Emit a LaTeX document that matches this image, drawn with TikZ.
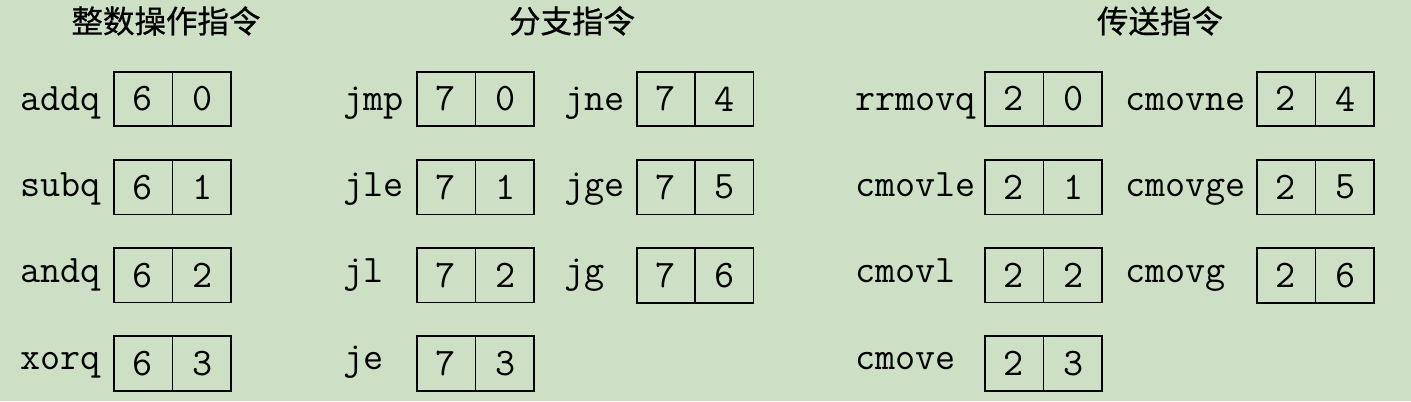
\documentclass[tikz,border=0pt]{standalone}
\usepackage{fontspec}
\newfontfamily\cjk{Noto Sans CJK SC}[FakeBold=0.6]
\usepackage{tikz}
\usetikzlibrary{shapes.multipart}
\usetikzlibrary{positioning}
\definecolor{bggreen}{RGB}{205,223,196}

\begin{document}
\begin{tikzpicture}[x=0.5pt, y=0.5pt,
			title/.style={font=\cjk\fontsize{15.75}{18}\selectfont, text=black},
			instr/.style={font=\fontsize{19.5}{22}\selectfont\ttfamily, anchor=base west, inner sep=0pt},
			code/.style={rectangle, draw=black, line width=0.9pt, rectangle split, rectangle split horizontal, rectangle split parts=2,
					inner xsep=0pt, inner ysep=7.5pt, text width=28.75pt, align=center, text height=12pt, text depth=0pt,
					font=\fontsize{19.5}{22}\selectfont\ttfamily},
			node distance=16pt]
		\path [fill=bggreen, use as bounding box] (0,0) rectangle (1411,401);

		\node (inttitle) [title] at (166,380) {整数操作指令};
		\node (jumptitle) [title] at (572,380) {分支指令};
		\node (movetitle) [title] at (1160,380) {传送指令};

		\node (addqcode) [code] at (172.5,302) {6 \nodepart{two} 0};
		\node (subqcode) [code, below=of addqcode] {6 \nodepart{two} 1};
		\node (andqcode) [code, below=of subqcode] {6 \nodepart{two} 2};
		\node (xorqcode) [code, below=of andqcode] {6 \nodepart{two} 3};

		\node (addq) [instr] at (20,290) {addq};
		\node (subq) [instr] at (20,204) {subq};
		\node (andq) [instr] at (20,118) {andq};
		\node (xorq) [instr] at (20,32) {xorq};

		\node (jmpcode) [code] at (475.5,302) {7 \nodepart{two} 0};
		\node (jlecode) [code, below=of jmpcode] {7 \nodepart{two} 1};
		\node (jlcode) [code, below=of jlecode] {7 \nodepart{two} 2};
		\node (jecode) [code, below=of jlcode] {7 \nodepart{two} 3};

		\node (jmp) [instr] at (343,290) {jmp};
		\node (jle) [instr] at (343,204) {jle};
		\node (jl) [instr] at (343,118) {jl};
		\node (je) [instr] at (343,32) {je};

		\node (jnecode) [code] at (695,302) {7 \nodepart{two} 4};
		\node (jgecode) [code, below=of jnecode] {7 \nodepart{two} 5};
		\node (jgcode) [code, below=of jgecode] {7 \nodepart{two} 6};

		\node (jne) [instr] at (564,290) {jne};
		\node (jge) [instr] at (564,204) {jge};
		\node (jg) [instr] at (564,118) {jg};

		\node (rrmovqcode) [code] at (1043.5,302) {2 \nodepart{two} 0};
		\node (cmovlecode) [code, below=of rrmovqcode] {2 \nodepart{two} 1};
		\node (cmovlcode) [code, below=of cmovlecode] {2 \nodepart{two} 2};
		\node (cmovecode) [code, below=of cmovlcode] {2 \nodepart{two} 3};

		\node (rrmovq) [instr] at (855,290) {rrmovq};
		\node (cmovle) [instr] at (855,204) {cmovle};
		\node (cmovl) [instr] at (855,118) {cmovl};
		\node (cmove) [instr] at (855,32) {cmove};

		\node (cmovnecode) [code] at (1315.5,302) {2 \nodepart{two} 4};
		\node (cmovgecode) [code, below=of cmovnecode] {2 \nodepart{two} 5};
		\node (cmovgcode) [code, below=of cmovgecode] {2 \nodepart{two} 6};

		\node (cmovne) [instr] at (1125,290) {cmovne};
		\node (cmovge) [instr] at (1125,204) {cmovge};
		\node (cmovg) [instr] at (1125,118) {cmovg};
	\end{tikzpicture}
\end{document}
